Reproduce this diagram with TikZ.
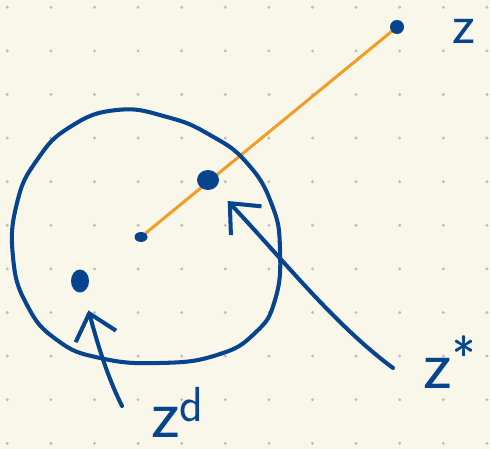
\documentclass[tikz,border=0pt]{standalone}
\usepackage{xcolor}
\usepackage{tikz}
\usetikzlibrary{arrows.meta,shapes.geometric}
\definecolor{nbPaper}{RGB}{249,246,234}
\definecolor{nbDot}{RGB}{188,187,180}
\definecolor{nbInk}{RGB}{6,68,142}
\definecolor{nbOrange}{RGB}{243,156,38}
\pgfdeclarelayer{paper}
\pgfdeclarelayer{under}
\pgfsetlayers{paper,under,main}

\begin{document}
\begin{tikzpicture}[
  x=0.02cm, y=-0.02cm,
  dot/.style={ellipse, fill=nbInk, inner sep=0pt},
  ink/.style={draw=nbInk, line width=2.3pt, line cap=round, line join=round},
  pointer/.style={ink, -{Straight Barb[length=0.48cm, width=0.84cm]}},
  lbl/.style={text=nbInk, inner sep=0pt, font=\sffamily\fontsize{40}{40}\selectfont},
]

%% Paper with dot grid
\begin{pgfonlayer}{paper}
\fill[nbPaper] (0,0) rectangle (490,449);
\foreach \gx in {0,...,11}{
  \foreach \gy in {0,...,10}{
    \fill[nbDot] (7.3+43.6*\gx, 7.3+43.6*\gy) circle (1.6);
  }
}
\end{pgfonlayer}
\useasboundingbox (0,0) rectangle (490,449);

%% Points
\node[dot, minimum width=0.26cm, minimum height=0.2cm]  (ctr)   at (141,237) {};
\node[dot, minimum width=0.44cm, minimum height=0.4cm]  (zstar) at (208,180) {};
\node[dot, minimum width=0.28cm, minimum height=0.28cm] (zpt)   at (397,27)  {};
\node[dot, minimum width=0.36cm, minimum height=0.46cm] (zd)    at (80,281)  {};

%% Labels
\node[lbl, font=\sffamily\fontsize{32}{32}\selectfont] (lz) at (464,31) {z};
\node[lbl] (lzs) at (450,362) {z\textsuperscript{*}};
\node[lbl] (lzd) at (178,412) {z\textsuperscript{d}};

%% Ball (hand drawn)
\draw[ink] plot[smooth cycle, tension=0.8] coordinates {
  (117,110) (167,117) (210,135) (247,163) (272,205) (280,250) (275,300)
  (255,333) (217,355) (160,363) (100,358) (57,340) (27,305) (13,257)
  (17,203) (37,160) (70,127)};

%% Segment from centre to z
\begin{pgfonlayer}{under}
\draw[nbOrange, line width=1.7pt, line cap=round] (ctr) -- (zpt.center);
\end{pgfonlayer}

%% Pointers
\coordinate (zsfoot) at (393,368);
\coordinate (zdfoot) at (122,406);
\draw[pointer, shorten >=0.36cm] (zsfoot) .. controls (335,325) and (285,262) .. (zstar);
\draw[pointer, shorten >=0.38cm] (zdfoot) .. controls (104,370) and (94,330) .. (zd);

\end{tikzpicture}
\end{document}
